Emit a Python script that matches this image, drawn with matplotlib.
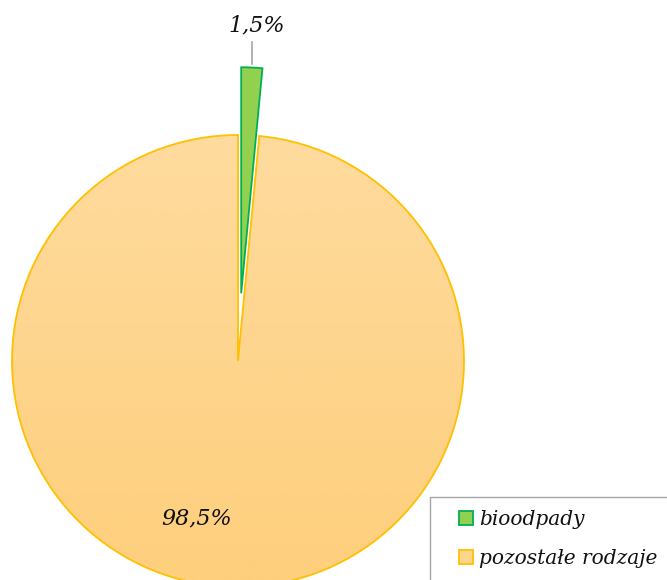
import numpy as np
import matplotlib.pyplot as plt
from matplotlib.colors import LinearSegmentedColormap
from matplotlib.patches import Rectangle

# data
labels = ["bioodpady", "pozostałe rodzaje"]
values = [1.5, 98.5]
pct_text = ["1,5%", "98,5%"]
face = ["#92D050", "#FDD68E"]
edge = ["#00B050", "#FFC000"]

fig = plt.figure(figsize=(6.67, 5.8), dpi=100)
ax = fig.add_axes([0, 0, 1, 1])
R = 226.0  # pie radius in pixels
cx, cy = 238.0, 361.0

wedges, _ = ax.pie(values, colors=face, startangle=90, counterclock=False,
                   explode=[0.30, 0], radius=1.0,
                   wedgeprops=dict(linewidth=1.3))
for w, ec in zip(wedges, edge):
    w.set_edgecolor(ec)
ax.set_aspect("auto")

# soft vertical gradient on the large slice (lighter at top)
big = wedges[1]
cmap = LinearSegmentedColormap.from_list("g", ["#FEDB9E", "#FECF7C"])
grad = np.linspace(0, 1, 256).reshape(-1, 1)
im = ax.imshow(grad, cmap=cmap, extent=(-1, 1, -1, 1), origin="upper",
               aspect="auto", zorder=big.get_zorder() - 0.05)
im.set_clip_path(big)
big.set_facecolor("none")
ax.set_xlim(-cx / R, (667 - cx) / R)
ax.set_ylim(-(580 - cy) / R, cy / R)
ax.axis("off")

font = dict(family="DejaVu Serif", style="italic", color="#111111")
# small slice label with leader line
ax.plot([14 / R, 14 / R], [(cy - 42) / R, (cy - 64) / R], color="#a6a6a6", lw=1.2)
ax.text(19 / R, (cy - 25) / R, pct_text[0], ha="center", va="center", fontsize=16, **font)
ax.text(-41 / R, (cy - 518) / R, pct_text[1], ha="center", va="center", fontsize=16, **font)

# legend box
fig.patches.append(Rectangle((430 / 667, -0.1), 0.5, 1 - 497 / 580 + 0.1,
                             transform=fig.transFigure, fill=False,
                             edgecolor="#a6a6a6", lw=1.0))
leg = ax.legend(wedges, labels, loc="upper left",
                bbox_to_anchor=(459 / 667, 1 - 510 / 580), bbox_transform=fig.transFigure,
                frameon=False, handlelength=0.7, handleheight=0.7, handletextpad=0.3,
                labelspacing=1.0, borderpad=0, borderaxespad=0,
                prop=dict(family="DejaVu Serif", style="italic", size=14.5))
for t in leg.get_texts():
    t.set_color("#111111")
leg.legend_handles[1].set_facecolor("#FDD68E")
leg.legend_handles[1].set_edgecolor("#FFC000")

fig.savefig("out.png", dpi=100)
